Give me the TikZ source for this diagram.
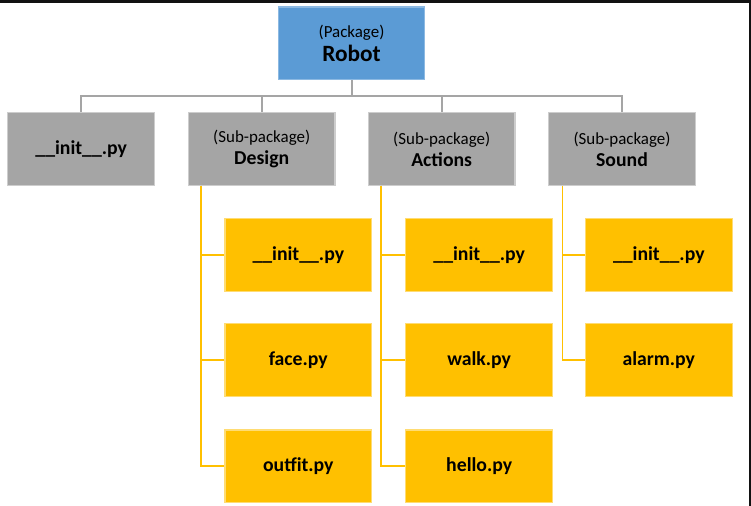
\documentclass[tikz,border=0pt]{standalone}
\usepackage{fontspec}
\setmainfont{Carlito}
\usepackage{tikz}

\definecolor{pkgblue}{HTML}{5B9BD5}
\definecolor{subgray}{HTML}{A5A5A5}
\definecolor{fileyellow}{HTML}{FFC000}

\begin{document}
\begin{tikzpicture}[x=0.75pt,y=0.75pt,yscale=-1,xscale=1,
  box/.style={rectangle,minimum width=110pt,minimum height=54.5pt,inner sep=0.75pt,align=center,line width=0.9pt},
  pkgbox/.style={box,fill=pkgblue,draw=pkgblue!70!white,font=\fontsize{17.5}{18.5}\selectfont},
  subbox/.style={box,fill=subgray,draw=subgray!55!white,font=\fontsize{14.8}{16.5}\selectfont},
  filebox/.style={box,fill=fileyellow,draw=fileyellow!55!white,font=\fontsize{14.8}{16}\selectfont\bfseries},
  treeline/.style={draw=subgray,line width=1.5pt},
  fileline/.style={draw=fileyellow,line width=1.2pt}]
\useasboundingbox (0,0) rectangle (751,506);

%Frame edges
\fill[black!93] (0,0) rectangle (751,3.3);
\fill[black!93] (749,0) rectangle (751,506);

% Package
\node [pkgbox] (robot) at (351.5,43.3) {{\fontsize{12.7}{14}\selectfont (Package)}\\\textbf{Robot}};

% Sub-packages
\node [subbox] (topinit) at (81.2,149) {\textbf{\_\_init\_\_.py}};
\node [subbox] (design) at (261.7,149) {{\fontsize{12.7}{14}\selectfont (Sub-package)}\\\textbf{Design}};
\node [subbox] (actions) at (441.7,149) {{\fontsize{12.7}{14}\selectfont (Sub-package)}\\\textbf{Actions}};
\node [subbox] (sound) at (622,149) {{\fontsize{12.7}{14}\selectfont (Sub-package)}\\\textbf{Sound}};

% Design files
\node [filebox] (dinit) at (298.3,255) {\_\_init\_\_.py};
\node [filebox] (dface) at (298.3,360) {face.py};
\node [filebox] (doutfit) at (298.3,466.3) {outfit.py};

% Actions files
\node [filebox] (ainit) at (479.2,255) {\_\_init\_\_.py};
\node [filebox] (awalk) at (479.2,360) {walk.py};
\node [filebox] (ahello) at (479.2,466.3) {hello.py};

% Sound files
\node [filebox] (sinit) at (658.8,255) {\_\_init\_\_.py};
\node [filebox] (salarm) at (658.8,360) {alarm.py};

%Straight Lines
\coordinate (bus) at (351.5,96);
\draw [treeline] (robot.south) -- (bus);
\draw [treeline] (bus) -| (topinit.north);
\draw [treeline] (bus) -| (design.north);
\draw [treeline] (bus) -| (actions.north);
\draw [treeline] (bus) -| (sound.north);

%Straight Lines
\coordinate (dtrunk) at ([xshift=10pt]design.south west);
\draw [fileline] (dtrunk) |- (dinit.west);
\draw [fileline] (dtrunk) |- (dface.west);
\draw [fileline] (dtrunk) |- (doutfit.west);

\coordinate (atrunk) at ([xshift=10pt]actions.south west);
\draw [fileline] (atrunk) |- (ainit.west);
\draw [fileline] (atrunk) |- (awalk.west);
\draw [fileline] (atrunk) |- (ahello.west);

\coordinate (strunk) at ([xshift=10.7pt]sound.south west);
\draw [fileline] (strunk) |- (sinit.west);
\draw [fileline] (strunk) |- (salarm.west);

\end{tikzpicture}
\end{document}
